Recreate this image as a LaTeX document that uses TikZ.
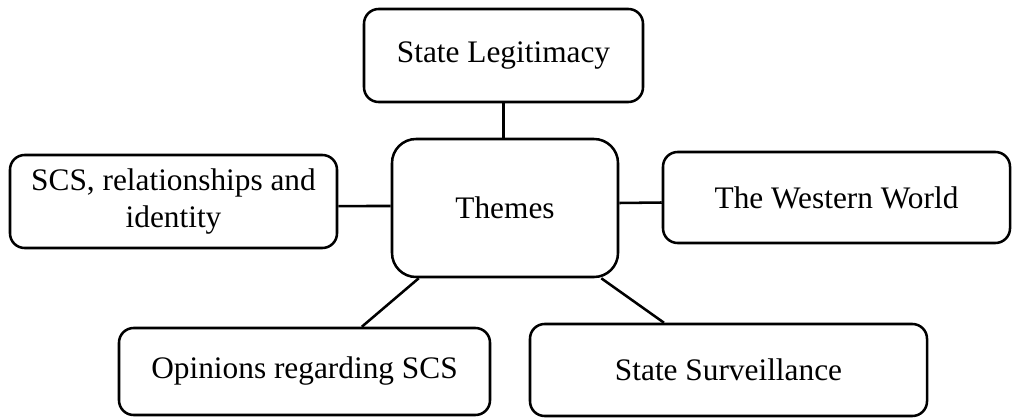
\documentclass[tikz,border=0pt]{standalone}
\usepackage{fontspec}
\setmainfont{Liberation Serif}
\begin{document}
\begin{tikzpicture}[x=0.75pt,y=-0.75pt,
  box/.style={draw=black,line width=1.9pt,rounded corners=11pt,inner sep=0pt,align=center,
    font=\fontsize{23.5}{27.5}\selectfont},
  conn/.style={draw=black,line width=1.9pt}]
\useasboundingbox (0,0) rectangle (1012,417);
\node[box,minimum width=209.25pt,minimum height=69.75pt] (leg) at (503.5,55.5) {State Legitimacy};
\node[box,rounded corners=18pt,minimum width=169.5pt,minimum height=103.5pt] (themes) at (505,208) {Themes};
\node[box,minimum width=245.25pt,minimum height=69.75pt] (scs) at (173.5,201.5) {SCS, relationships and\\identity};
\node[box,minimum width=260.25pt,minimum height=68.25pt] (west) at (836.5,197.5) {The Western World};
\node[box,minimum width=278.25pt,minimum height=65.25pt] (opin) at (304.5,371.5) {Opinions regarding SCS};
\node[box,minimum width=297.75pt,minimum height=69pt] (surv) at (728.5,370) {State Surveillance};
\draw[conn] (leg.south) -- (leg.south |- themes.north);
\draw[conn] ([yshift=-3.4pt]scs.east) -- ([yshift=1.5pt]themes.west);
\draw[conn] ([yshift=3.75pt]themes.east) -- ([yshift=-3.75pt]west.west);
\draw[conn] ([xshift=21pt]themes.south west) -- ([xshift=43pt]opin.north);
\draw[conn] ([xshift=-13.5pt]themes.south east) -- ([xshift=-48.4pt]surv.north);
\end{tikzpicture}
\end{document}
